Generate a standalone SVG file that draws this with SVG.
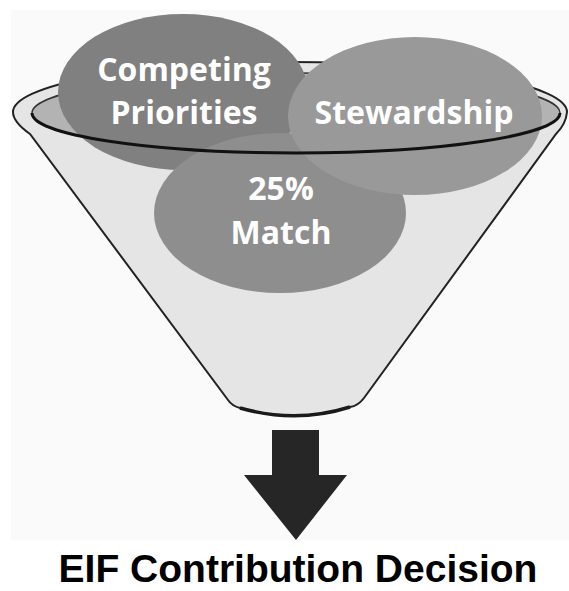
<svg xmlns="http://www.w3.org/2000/svg" width="569" height="591" viewBox="0 0 569 591">
  <style>
    .lbl { font-family: "Open Sans", "Noto Sans", sans-serif; font-weight: 700; font-size: 32px; fill: #ffffff; text-anchor: middle; }
    .title { font-family: "Liberation Sans", Arial, sans-serif; font-weight: bold; font-size: 39px; fill: #000000; text-anchor: middle; }
  </style>
  <rect x="0" y="0" width="569" height="591" fill="#ffffff"/>
  <rect x="11" y="10" width="558" height="530" fill="#fafafa"/>
  <g id="funnel">
    <path d="M 13 112 A 277 50 0 0 1 567 112 Q 566 124 556 134 L 364 398 Q 358 406 350 407 Q 296 424 240 408 Q 232 406 228 400 L 30 134 Q 13 122 13 112 Z" fill="#e5e5e5" stroke="#222222" stroke-width="2"/>
    <path d="M 350 407 Q 296 424 240 408" fill="none" stroke="#1a1a1a" stroke-width="3.5"/>
    <ellipse cx="296" cy="113" rx="264" ry="40" fill="#b3b3b3" stroke="#333333" stroke-width="1.5"/>
  </g>
  <g id="node-competing">
    <ellipse cx="183" cy="92" rx="125" ry="78" fill="#808080"/>
  </g>
  <g id="node-match">
    <ellipse cx="280" cy="213" rx="126" ry="80" fill="#8e8e8e"/>
  </g>
  <g id="node-stewardship">
    <ellipse cx="415" cy="116" rx="127" ry="79" fill="#999999"/>
  </g>
  <g id="rim-front">
    <path d="M 32 113 A 264 40 0 0 0 560 113" fill="none" stroke="#111111" stroke-width="3"/>
  </g>
  <g id="labels">
    <text class="lbl" x="184" y="81">Competing</text>
    <text class="lbl" x="184" y="124">Priorities</text>
    <text class="lbl" x="414" y="124">Stewardship</text>
    <text class="lbl" x="281" y="200">25%</text>
    <text class="lbl" x="281" y="244">Match</text>
  </g>
  <g id="connectors">
    <polygon points="272,430 319,430 319,475 347,475 296,540 244,475 272,475" fill="#262626"/>
  </g>
  <g id="node-title">
    <text class="title" x="298" y="582">EIF Contribution Decision</text>
  </g>
</svg>
